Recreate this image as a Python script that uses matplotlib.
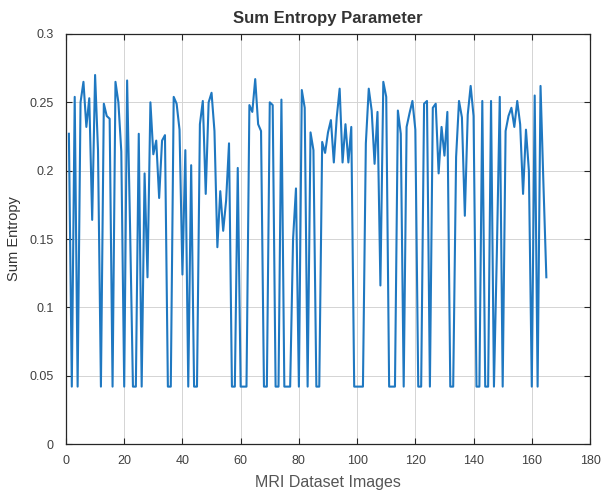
import matplotlib
matplotlib.use("Agg")
import matplotlib.pyplot as plt

# sum entropy value per image (images 1..165)
sum_entropy = [
    0.227, 0.042, 0.254, 0.042, 0.250, 0.265, 0.232, 0.253, 0.164, 0.270,
    0.215, 0.042, 0.249, 0.240, 0.238, 0.042, 0.265, 0.250, 0.214, 0.042,
    0.266, 0.160, 0.042, 0.042, 0.227, 0.042, 0.198, 0.122, 0.250, 0.212,
    0.222, 0.180, 0.222, 0.226, 0.042, 0.042, 0.254, 0.249, 0.230, 0.124,
    0.215, 0.042, 0.204, 0.042, 0.042, 0.234, 0.251, 0.183, 0.250, 0.257,
    0.229, 0.144, 0.185, 0.156, 0.178, 0.220, 0.042, 0.042, 0.202, 0.042,
    0.042, 0.042, 0.248, 0.243, 0.267, 0.234, 0.229, 0.042, 0.042, 0.250,
    0.248, 0.042, 0.042, 0.252, 0.042, 0.042, 0.042, 0.150, 0.187, 0.042,
    0.259, 0.246, 0.042, 0.228, 0.215, 0.042, 0.042, 0.221, 0.213, 0.228,
    0.237, 0.206, 0.239, 0.260, 0.206, 0.234, 0.206, 0.232, 0.042, 0.042,
    0.042, 0.042, 0.220, 0.260, 0.244, 0.205, 0.243, 0.116, 0.265, 0.254,
    0.042, 0.042, 0.042, 0.244, 0.227, 0.042, 0.232, 0.242, 0.251, 0.230,
    0.042, 0.042, 0.249, 0.251, 0.042, 0.246, 0.249, 0.198, 0.232, 0.211,
    0.243, 0.042, 0.042, 0.210, 0.251, 0.239, 0.167, 0.241, 0.262, 0.240,
    0.042, 0.042, 0.251, 0.042, 0.042, 0.251, 0.042, 0.140, 0.254, 0.042,
    0.229, 0.240, 0.246, 0.232, 0.251, 0.234, 0.183, 0.230, 0.200, 0.042,
    0.255, 0.042, 0.262, 0.190, 0.122,
]
image_index = list(range(1, len(sum_entropy) + 1))

x_ticks = [0, 20, 40, 60, 80, 100, 120, 140, 160, 180]
y_ticks = [0, 0.05, 0.1, 0.15, 0.2, 0.25, 0.3]
y_tick_labels = ["0", "0.05", "0.1", "0.15", "0.2", "0.25", "0.3"]

plt.rcParams["font.family"] = ["Liberation Sans", "DejaVu Sans"]

fig = plt.figure(figsize=(6.02, 4.97), dpi=100)
ax = fig.add_axes([0.1096, 0.1066, 0.8705, 0.825])

ax.plot(image_index, sum_entropy, color="#1f78c1", linewidth=1.5)

ax.set_xlim(0, 180)
ax.set_ylim(0, 0.3)
ax.set_xticks(x_ticks)
ax.set_yticks(y_ticks)
ax.set_yticklabels(y_tick_labels)
ax.grid(True, color="#d4d4d4", linewidth=0.7)
ax.set_axisbelow(True)
ax.tick_params(direction="in", top=True, right=True, length=4, width=0.8,
               labelsize=9, colors="#262626")
ax.tick_params(axis="x", pad=8, labelcolor="#404040")
ax.tick_params(axis="y", pad=9, labelcolor="#404040")
for s in ax.spines.values():
    s.set_color("#262626")
    s.set_linewidth(0.9)

ax.set_title("Sum Entropy Parameter", fontsize=12, fontweight="bold",
             color="#333333", pad=8)
ax.set_xlabel("MRI Dataset Images", fontsize=11.5, color="#555555", labelpad=6)
ax.set_ylabel("Sum Entropy", fontsize=10.5, color="#333333", labelpad=6)

fig.savefig("out.png", dpi=100)
